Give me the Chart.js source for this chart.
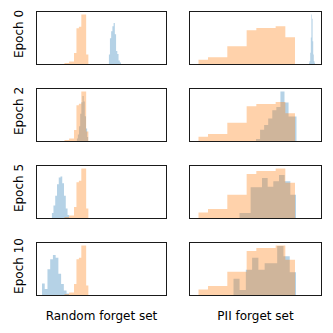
<!DOCTYPE html>
<html>
<head>
<meta charset="utf-8">
<script src="https://cdn.jsdelivr.net/npm/chart.js@4.4.0/dist/chart.umd.min.js"></script>
<style>
  body { margin: 0; background: #fff; width: 333px; height: 333px; position: relative; overflow: hidden;
         font-family: "DejaVu Sans", sans-serif; }
  .panel { position: absolute; box-sizing: border-box; border: 1px solid #1a1a1a; }
  .panel canvas { display: block; }
  .lbl { position: absolute; font-size: 12px; color: #000; white-space: nowrap; }
  .rot { transform: translate(-50%, -50%) rotate(-90deg); }
  .ctr { transform: translate(-50%, -50%); }
</style>
</head>
<body>
<script>
// row / column labels
var epochs = ["Epoch 0", "Epoch 2", "Epoch 5", "Epoch 10"];
var columns = ["Random forget set", "PII forget set"];

// x range of each column (same for all rows)
var randXRange = [1, 130];
var piiXRange = [1, 132];

// orange histogram: same in every row of a column
var randOrangeStart = 28.3, randOrangeWidth = 2.43;
var randOrange = [2, 2, 5, 5, 22, 72, 75, 100, 100, 19];
var piiOrangeStart = 9.3, piiOrangeWidth = 9.67;
var piiOrange = [11, 18, 18, 47, 47, 89, 95, 95, 100, 71];

// blue histograms, one per epoch (first bin edge, bin width, counts)
var randBlueStart = [72.7, 40.7, 15.7, 6];
var randBlueWidth = [1.23, 1.16, 1.76, 2.73];
var randBlueE0 = [19, 52, 66, 76, 83, 60, 26, 20, 7, 3];
var randBlueE2 = [5, 13, 30, 55, 78, 91, 80, 50, 25, 8];
var randBlueE5 = [10, 25, 45, 68, 82, 84, 70, 45, 19, 6];
var randBlueE10 = [23, 12, 52, 72, 81, 75, 43, 22, 9, 3];

var piiBlueStart = [120, 67, 50.3, 44.3];
var piiBlueWidth = [0.6, 4.07, 5.67, 6.27];
var piiBlueE0 = [3, 8, 30, 70, 131, 120, 60, 25, 8, 3];
var piiBlueE2 = [5, 29, 41, 58, 79, 87, 127, 99, 63, 63];
var piiBlueE5 = [10, 10, 62, 62, 81, 63, 74, 87, 74, 47];
var piiBlueE10 = [33, 10, 51, 75, 51, 64, 64, 99, 78, 46];

var randBlue = [randBlueE0, randBlueE2, randBlueE5, randBlueE10];
var piiBlue = [piiBlueE0, piiBlueE2, piiBlueE5, piiBlueE10];

var blueFill = "rgba(31, 119, 180, 0.33)";
var orangeFill = "rgba(255, 127, 14, 0.35)";

// layout of the grid
var colLeft = [36, 189], colWidth = [131, 133];
var rowTop = [11, 88, 165, 242], rowHeight = 54;

// histogram -> points for a stepped, filled line
function steps(start, width, counts) {
  var pts = counts.map(function(c, i) { return { x: start + i * width, y: c }; });
  pts.push({ x: start + counts.length * width, y: 0 });
  return pts;
}

function histSet(points, color) {
  return {
    data: points,
    stepped: true,
    fill: "origin",
    backgroundColor: color,
    borderColor: "rgba(0,0,0,0)",
    borderWidth: 0,
    pointRadius: 0
  };
}

function drawPanel(col, row) {
  var div = document.createElement("div");
  div.className = "panel";
  div.style.left = colLeft[col] + "px";
  div.style.top = rowTop[row] + "px";
  div.style.width = colWidth[col] + "px";
  div.style.height = rowHeight + "px";
  var canvas = document.createElement("canvas");
  canvas.width = colWidth[col] - 2;
  canvas.height = rowHeight - 2;
  div.appendChild(canvas);
  document.body.appendChild(div);

  var orange, blue, xr;
  if (col == 0) {
    orange = steps(randOrangeStart, randOrangeWidth, randOrange);
    blue = steps(randBlueStart[row], randBlueWidth[row], randBlue[row]);
    xr = randXRange;
  } else {
    orange = steps(piiOrangeStart, piiOrangeWidth, piiOrange);
    blue = steps(piiBlueStart[row], piiBlueWidth[row], piiBlue[row]);
    xr = piiXRange;
  }
  var top = Math.max.apply(null, orange.concat(blue).map(function(p) { return p.y; }));

  new Chart(canvas.getContext("2d"), {
    type: "line",
    data: { datasets: [histSet(orange, orangeFill), histSet(blue, blueFill)] },
    options: {
      responsive: false,
      animation: false,
      devicePixelRatio: 1,
      events: [],
      layout: { padding: 0 },
      plugins: { legend: { display: false }, tooltip: { enabled: false } },
      scales: {
        x: { type: "linear", display: false, min: xr[0], max: xr[1] },
        y: { display: false, min: 0, max: top * 1.05 }
      }
    }
  });
}

function addLabel(text, x, y, cls) {
  var el = document.createElement("div");
  el.className = "lbl " + cls;
  el.style.left = x + "px";
  el.style.top = y + "px";
  el.textContent = text;
  document.body.appendChild(el);
}

var epochY = [34, 111, 188, 266];
for (var r = 0; r < epochs.length; r++) {
  drawPanel(0, r);
  drawPanel(1, r);
  addLabel(epochs[r], 19, epochY[r], "rot");
}
addLabel(columns[0], colLeft[0] + colWidth[0] / 2, 316, "ctr");
addLabel(columns[1], colLeft[1] + colWidth[1] / 2, 316, "ctr");
</script>
</body>
</html>
